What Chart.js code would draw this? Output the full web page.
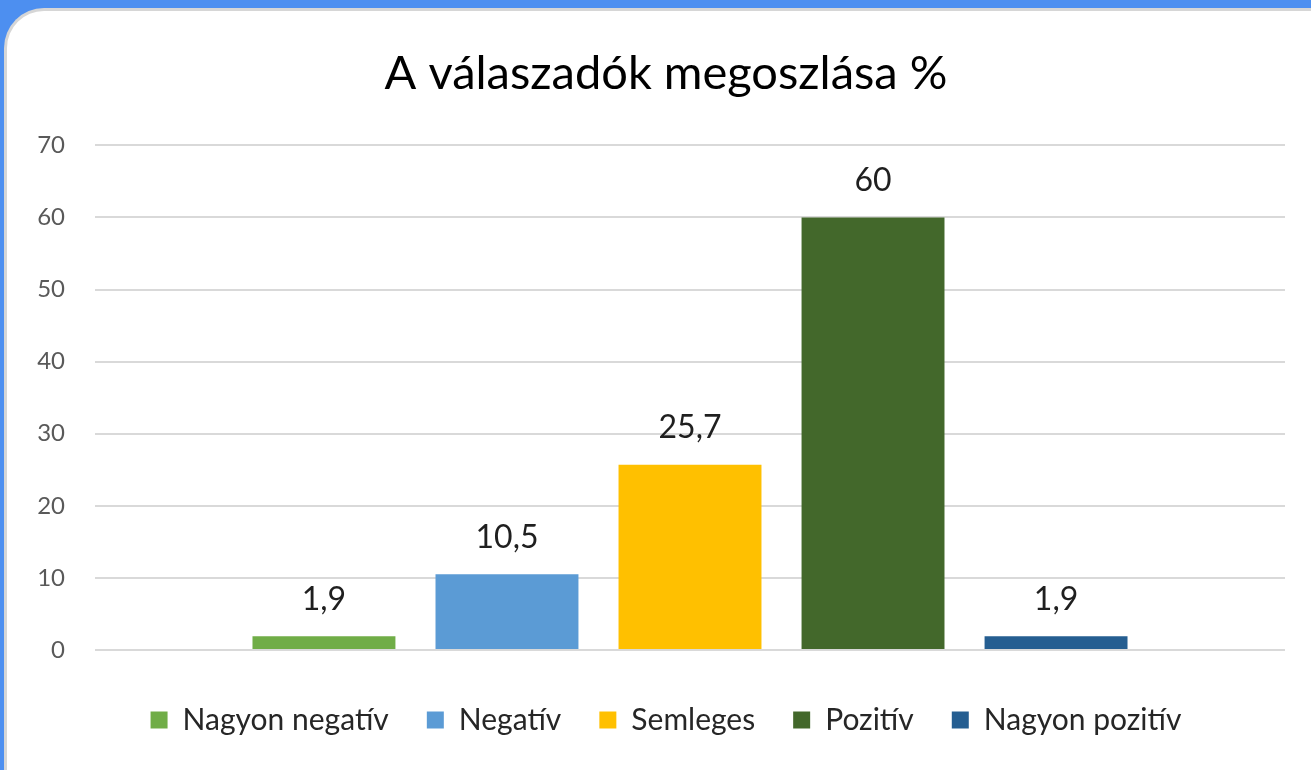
<!DOCTYPE html>
<html>
<head>
<meta charset="utf-8">
<script src="https://cdn.jsdelivr.net/npm/chart.js@4"></script>
<style>
  html, body { margin:0; padding:0; }
  body { width:1311px; height:770px; overflow:hidden; background:#4d8ff0; position:relative; }
  .card { position:absolute; left:4px; top:8px; width:1360px; height:820px; background:#fff;
          border-radius:40px; border-top:3px solid #d6d6d6; border-left:3px solid #d6d6d6; }
  .wrap { position:absolute; left:5px; top:10px; width:1322px; height:760px; }
</style>
</head>
<body>
<div class="card"></div>
<div class="wrap"><canvas id="valasz"></canvas></div>
<script>
// adatok
const kategoriak = [''];
const sorozatNevek = ['Nagyon negatív', 'Negatív', 'Semleges', 'Pozitív', 'Nagyon pozitív'];
const ertekek = [1.9, 10.5, 25.7, 60, 1.9];
const szinek = ['#70ad47', '#5b9bd5', '#ffc000', '#43682b', '#255e91'];
const yTick = { min: 0, max: 70, step: 10 };

const FONT = 'Lato';

// ertek cimkek a rudak felett (vesszos tizedes)
const ertekCimke = {
  id: 'ertekCimke',
  afterDatasetsDraw(chart) {
    const ctx = chart.ctx;
    ctx.save();
    ctx.font = '32px ' + FONT;
    ctx.fillStyle = '#1f1f1f';
    ctx.textAlign = 'center';
    ctx.textBaseline = 'middle';
    chart.data.datasets.forEach(function(ds, i) {
      const meta = chart.getDatasetMeta(i);
      meta.data.forEach(function(bar, j) {
        ctx.fillText(String(ds.data[j]).replace('.', ','), bar.x, bar.y - 37);
      });
    });
    ctx.restore();
  }
};

try {
  const ctx = document.getElementById('valasz').getContext('2d');
  const data = {
    labels: kategoriak,
    datasets: sorozatNevek.map(function(nev, i) {
      return {
        label: nev,
        data: [ertekek[i]],
        backgroundColor: szinek[i],
        borderWidth: 0,
        categoryPercentage: 0.769,
        barPercentage: 0.781
      };
    })
  };
  new Chart(ctx, {
    type: 'bar',
    data: data,
    plugins: [ertekCimke],
    options: {
      responsive: true,
      maintainAspectRatio: false,
      animation: false,
      layout: { padding: { left: 0, right: 0, top: 0, bottom: 25 } },
      plugins: {
        title: {
          display: true,
          text: 'A válaszadók megoszlása %',
          color: '#000',
          font: { family: FONT, size: 47, weight: 'normal' },
          padding: { top: 36, bottom: 43 }
        },
        legend: {
          position: 'bottom',
          labels: {
            color: '#262626',
            font: { family: FONT, size: 30 },
            boxWidth: 17,
            boxHeight: 17,
            padding: 38
          }
        },
        tooltip: { enabled: false }
      },
      scales: {
        x: {
          grid: { display: false },
          border: { display: false },
          ticks: { display: false },
          afterFit: function(s) { s.height = 17; }
        },
        y: {
          min: yTick.min,
          max: yTick.max,
          grid: { color: '#d9d9d9', lineWidth: 2, drawTicks: false },
          border: { display: false },
          ticks: {
            stepSize: yTick.step,
            color: '#595959',
            padding: 30,
            font: { family: FONT, size: 24 }
          },
          afterFit: function(s) { s.width = 90; }
        },
        y2: {
          position: 'right',
          grid: { display: false },
          border: { display: false },
          ticks: { display: false },
          afterFit: function(s) { s.width = 42; }
        }
      }
    }
  });
} catch (e) {
  console.log('chart error', e);
}
</script>
</body>
</html>
